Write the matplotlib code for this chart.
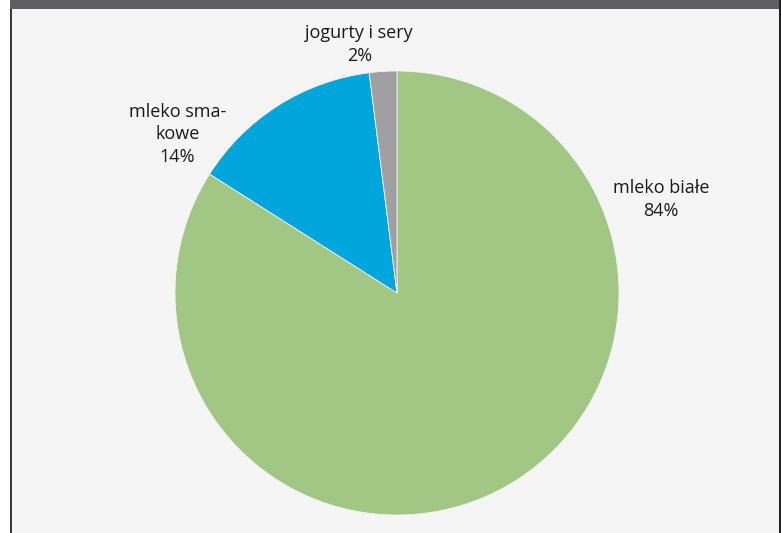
import matplotlib
matplotlib.use('Agg')
import matplotlib.pyplot as plt
from matplotlib.patches import Rectangle

# Data
categories = ['mleko białe', 'mleko sma-\nkowe', 'jogurty i sery']
shares = [84, 14, 2]
colors = ['#a2c785', '#00a5db', '#a0a0a2']
# label anchor (radius units, angle from pie centre) per slice
label_xy = [(1.19, 0.42), (-0.99, 0.715), (-0.17, 1.12)]

plt.rcParams['font.family'] = ['Open Sans', 'DejaVu Sans']

fig = plt.figure(figsize=(7.81, 5.33), dpi=100)
fig.patch.set_facecolor('white')

# light panel, dark top band, side borders
fig.patches.append(Rectangle((10/781, 0), 771/781, 1, transform=fig.transFigure,
                             facecolor='#f5f5f5', edgecolor='none', zorder=-3))
fig.patches.append(Rectangle((10/781, 1 - 9/533), 771/781, 9/533, transform=fig.transFigure,
                             facecolor='#5f5f61', edgecolor='none', zorder=-2))
fig.patches.append(Rectangle((10/781, 0), 2/781, 1 - 9/533, transform=fig.transFigure,
                             facecolor='#3a3a3a', edgecolor='none', zorder=-2))
fig.patches.append(Rectangle((779/781, 0), 2/781, 1, transform=fig.transFigure,
                             facecolor='#222222', edgecolor='none', zorder=-2))

ax = fig.add_axes([175/781, 18/533, 444/781, 444/533])
ax.set_facecolor('none')
wedges, _ = ax.pie(shares, colors=colors, startangle=90, counterclock=False,
                   wedgeprops=dict(edgecolor='#f5f5f5', linewidth=0.6))
ax.set_xlim(-1, 1)
ax.set_ylim(-1, 1)
ax.axis('off')

for name, val, (x, y) in zip(categories, shares, label_xy):
    ax.text(x, y, f'{name}\n{val}%', ha='center', va='center', fontsize=13,
            color='#1a1a1a', linespacing=1.33, clip_on=False)

plt.savefig('out.png', dpi=100)
